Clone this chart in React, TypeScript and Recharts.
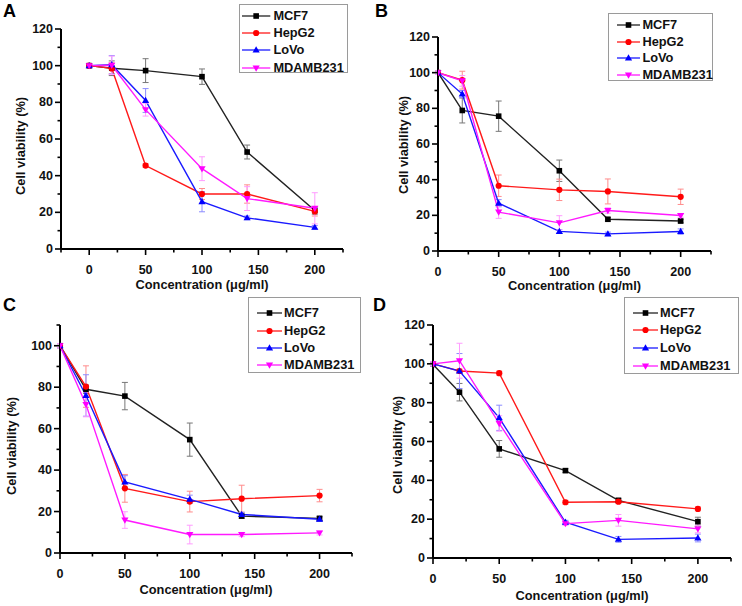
import React from "react";
import { LineChart, Line, XAxis, YAxis, ErrorBar, Legend } from "recharts";

// x values (µg/ml) and cell lines
const concentrations = [0, 20, 50, 100, 140, 200];
const cellLines = ["MCF7", "HepG2", "LoVo", "MDAMB231"];

// tick values (major + minor)
const xTicksA = [-25, 0, 25, 50, 75, 100, 125, 150, 175, 200, 225];
const xTicks = [0, 25, 50, 75, 100, 125, 150, 175, 200, 225];
const yTicks120 = [0, 10, 20, 30, 40, 50, 60, 70, 80, 90, 100, 110, 120];
const yTicks110 = [0, 10, 20, 30, 40, 50, 60, 70, 80, 90, 100, 110];

// panel A
const mcf7A = [100, 98.6, 97.3, 94, 52.9, 21];
const mcf7AErr = [1, 4, 6.5, 4.2, 3.8, 2];
const hepg2A = [100, 98.5, 45.5, 30, 30, 20.5];
const hepg2AErr = [1, 3, 1, 3, 5, 2.5];
const lovoA = [100, 100.5, 81, 25.8, 17, 11.8];
const lovoAErr = [1, 5, 6.5, 5.5, 1, 1];
const mdaA = [100, 100.2, 76, 43.8, 27.5, 22.2];
const mdaAErr = [1, 5, 3.5, 6.5, 6.5, 8.5];

// panel B
const mcf7B = [100, 78.8, 75.6, 45, 17.8, 16.8];
const mcf7BErr = [1, 7, 8.5, 6, 1, 1];
const hepg2B = [100, 95.8, 36.6, 34.3, 33.4, 30.4];
const hepg2BErr = [1, 5, 6, 6, 7, 4.3];
const lovoB = [100, 88, 26.8, 11, 9.6, 10.9];
const lovoBErr = [1, 2, 2, 1, 1, 1.5];
const mdaB = [100, 95.4, 21.8, 15.8, 22.7, 19.9];
const mdaBErr = [1, 3, 3.5, 4, 1.5, 1];

// panel C
const mcf7C = [100, 79, 75.7, 54.7, 17.8, 16.7];
const mcf7CErr = [1, 2, 6.6, 8, 1, 1];
const hepg2C = [100, 80.3, 31.2, 24.8, 26.2, 27.7];
const hepg2CErr = [1, 10, 6.7, 5, 6.5, 3];
const lovoC = [100, 76, 34.3, 25.9, 18.6, 16.3];
const lovoCErr = [1, 10, 3, 2, 1, 1];
const mdaC = [100, 71.7, 15.9, 8.9, 8.9, 9.7];
const mdaCErr = [1, 6, 4, 4.5, 1, 1];

// panel D
const mcf7D = [99.7, 85.4, 56.2, 45, 29.7, 18.7];
const mcf7DErr = [1, 4.5, 4.3, 1, 1, 2.3];
const hepg2D = [100, 96.3, 95.2, 28.7, 29, 25.3];
const hepg2DErr = [1, 1, 1, 1, 1, 1];
const lovoD = [100, 96.3, 72.2, 18.4, 9.6, 10.3];
const lovoDErr = [1, 9, 6.5, 1, 1.5, 2];
const mdaD = [100, 101.6, 69.3, 17.7, 19.4, 15];
const mdaDErr = [1, 9, 4, 1, 3, 2];

const FONT = '"Liberation Sans", Arial, sans-serif';

const seriesStyle = [
  { key: "mcf7", line: "#222", fill: "#000", err: "#777", marker: "square" },
  { key: "hepg2", line: "#ff1a1a", fill: "#ff0000", err: "#ff8c8c", marker: "circle" },
  { key: "lovo", line: "#1a1aff", fill: "#0000ff", err: "#8c8cff", marker: "up" },
  { key: "mda", line: "#ff1aff", fill: "#ff00ff", err: "#ff9cff", marker: "down" },
]

function buildRows(vals: number[][], errs: number[][]) {
  return concentrations.map((c, i) => {
    const row: Record<string, number> = { conc: c }
    seriesStyle.forEach((s, k) => {
      row[s.key] = vals[k][i]
      row[s.key + "Err"] = errs[k][i]
    })
    return row
  })
}

function Marker({ kind, cx, cy, color }: { kind: string; cx: number; cy: number; color: string }) {
  if (cx == null || cy == null) return null
  if (kind === "square") return <rect x={cx - 2.8} y={cy - 2.8} width={5.6} height={5.6} fill={color} />
  if (kind === "circle") return <circle cx={cx} cy={cy} r={3.1} fill={color} />
  if (kind === "up")
    return <polygon points={`${cx},${cy - 3.7} ${cx + 3.6},${cy + 2.5} ${cx - 3.6},${cy + 2.5}`} fill={color} />
  return <polygon points={`${cx},${cy + 3.7} ${cx + 3.6},${cy - 2.5} ${cx - 3.6},${cy - 2.5}`} fill={color} />
}

function XTick(props: any) {
  const { x, y, payload } = props
  const v = payload.value
  const major = v % 50 === 0
  return (
    <g>
      <line x1={x} x2={x} y1={y} y2={y + (major ? 6 : 3.5)} stroke="#000" strokeWidth={1.6} />
      {major && (
        <text x={x} y={y + 21} textAnchor="middle" dominantBaseline="central"
          fontFamily={FONT} fontWeight="bold" fontSize={12.5} fill="#111">
          {v}
        </text>
      )}
    </g>
  )
}

function YTick(props: any) {
  const { x, y, payload } = props
  const v = payload.value
  const major = v % 20 === 0
  return (
    <g>
      <line x1={x - (major ? 6 : 3.5)} x2={x} y1={y} y2={y} stroke="#000" strokeWidth={1.6} />
      {major && (
        <text x={x - 8} y={y} textAnchor="end" dominantBaseline="central"
          fontFamily={FONT} fontWeight="bold" fontSize={12.5} fill="#111">
          {v}
        </text>
      )}
    </g>
  )
}

type LegendLayout = { x: number; y: number; w: number; h: number; row0: number; gap: number; s0: number; s1: number; tx: number }

function LegendBox({ lg }: { lg: LegendLayout }) {
  return (
    <div style={{ position: "relative", width: lg.w, height: lg.h, boxSizing: "border-box", border: "1px solid #9a9a9a", background: "#fff" }}>
      {cellLines.map((name, i) => {
        const s = seriesStyle[i]
        const cy = lg.row0 + i * lg.gap
        return (
          <div key={name}>
            <svg style={{ position: "absolute", left: lg.s0, top: cy - 6 }} width={lg.s1 - lg.s0} height={12}>
              <line x1={0} x2={lg.s1 - lg.s0} y1={6} y2={6} stroke={s.line} strokeWidth={1.3} />
              <Marker kind={s.marker} cx={(lg.s1 - lg.s0) / 2} cy={6} color={s.fill} />
            </svg>
            <span style={{ position: "absolute", left: lg.tx, top: cy - 8, lineHeight: "16px", fontFamily: FONT, fontWeight: "bold", fontSize: 12.8, color: "#111", whiteSpace: "nowrap" }}>
              {name}
            </span>
          </div>
        )
      })}
    </div>
  )
}

type PanelProps = {
  letter: string
  left: number
  top: number
  width: number
  height: number
  margin: { top: number; right: number; bottom: number; left: number }
  yWidth: number
  xHeight: number
  xDomain: [number, number]
  xTickVals: number[]
  yDomain: [number, number]
  yTickVals: number[]
  vals: number[][]
  errs: number[][]
  legend: LegendLayout
  yTitle: { x: number; y: number }
  xTitleOffset: number
  letterPos: { x: number; y: number }
}

function Panel(p: PanelProps) {
  const rows = buildRows(p.vals, p.errs)
  return (
    <div style={{ position: "absolute", left: p.left, top: p.top, width: p.width, height: p.height }}>
      <LineChart width={p.width} height={p.height} data={rows} margin={p.margin}>
        <XAxis
          dataKey="conc"
          type="number"
          domain={p.xDomain}
          ticks={p.xTickVals}
          interval={0}
          allowDataOverflow
          height={p.xHeight}
          tickSize={0}
          tickMargin={0}
          tickLine={false}
          axisLine={{ stroke: "#000", strokeWidth: 2 }}
          tick={<XTick />}
          label={(lp: any) => {
            const vb = lp.viewBox
            return (
              <text x={vb.x + vb.width / 2} y={vb.y + p.xTitleOffset} textAnchor="middle" dominantBaseline="central"
                fontFamily={FONT} fontWeight="bold" fontSize={12.8} fill="#111">
                Concentration (μg/ml)
              </text>
            )
          }}
        />
        <YAxis
          type="number"
          domain={p.yDomain}
          ticks={p.yTickVals}
          interval={0}
          allowDataOverflow
          width={p.yWidth}
          tickSize={0}
          tickMargin={0}
          tickLine={false}
          axisLine={{ stroke: "#000", strokeWidth: 2 }}
          tick={<YTick />}
          label={() => (
            <text x={p.yTitle.x} y={p.yTitle.y} transform={`rotate(-90 ${p.yTitle.x} ${p.yTitle.y})`}
              textAnchor="middle" dominantBaseline="central"
              fontFamily={FONT} fontWeight="bold" fontSize={12.8} fill="#111">
              Cell viability (%)
            </text>
          )}
        />
        {seriesStyle.map((s) => (
          <Line
            key={s.key}
            dataKey={s.key}
            type="linear"
            stroke={s.line}
            strokeWidth={1.4}
            isAnimationActive={false}
            activeDot={false}
            dot={(dp: any) => <Marker key={`${s.key}-${dp.index}`} kind={s.marker} cx={dp.cx} cy={dp.cy} color={s.fill} />}
          >
            <ErrorBar dataKey={s.key + "Err"} width={3} strokeWidth={1} stroke={s.err} direction="y" isAnimationActive={false} />
          </Line>
        ))}
        <Legend
          layout="vertical"
          align="center"
          verticalAlign="middle"
          wrapperStyle={{ left: p.legend.x, top: p.legend.y, width: p.legend.w, height: p.legend.h }}
          content={() => <LegendBox lg={p.legend} />}
        />
      </LineChart>
      <div style={{ position: "absolute", left: p.letterPos.x, top: p.letterPos.y, fontFamily: FONT, fontWeight: "bold", fontSize: 18, lineHeight: "18px", color: "#000" }}>
        {p.letter}
      </div>
    </div>
  )
}

export default function App() {
  return (
    <div style={{ position: "absolute", left: 0, top: 0, width: 742, height: 606, background: "#fff", overflow: "hidden" }}>
      <Panel
        letter="A" left={0} top={0} width={371} height={300}
        margin={{ top: 29, right: 28, bottom: 1, left: 0 }} yWidth={61} xHeight={50}
        xDomain={[-25, 225]} xTickVals={xTicksA} yDomain={[0, 120]} yTickVals={yTicks120}
        vals={[mcf7A, hepg2A, lovoA, mdaA]} errs={[mcf7AErr, hepg2AErr, lovoAErr, mdaAErr]}
        legend={{ x: 239, y: 4, w: 109, h: 69, row0: 11, gap: 17.2, s0: 2.4, s1: 30.7, tx: 33.4 }}
        yTitle={{ x: 20, y: 146 }} xTitleOffset={35.5} letterPos={{ x: 3, y: 2 }}
      />
      <Panel
        letter="B" left={371} top={0} width={371} height={300}
        margin={{ top: 37, right: 31, bottom: 0, left: 0 }} yWidth={67} xHeight={49}
        xDomain={[0, 225]} xTickVals={xTicks} yDomain={[0, 120]} yTickVals={yTicks120}
        vals={[mcf7B, hepg2B, lovoB, mdaB]} errs={[mcf7BErr, hepg2BErr, lovoBErr, mdaBErr]}
        legend={{ x: 237, y: 13, w: 105, h: 68, row0: 11, gap: 16.7, s0: 7.7, s1: 30.7, tx: 33.4 }}
        yTitle={{ x: 32, y: 145 }} xTitleOffset={34.5} letterPos={{ x: 4, y: 2 }}
      />
      <Panel
        letter="C" left={0} top={300} width={371} height={306}
        margin={{ top: 25, right: 19, bottom: 3, left: 0 }} yWidth={60} xHeight={50}
        xDomain={[0, 225]} xTickVals={xTicks} yDomain={[0, 110]} yTickVals={yTicks110}
        vals={[mcf7C, hepg2C, lovoC, mdaC]} errs={[mcf7CErr, hepg2CErr, lovoCErr, mdaCErr]}
        legend={{ x: 248, y: -3, w: 113, h: 76, row0: 15.3, gap: 17.2, s0: 8.4, s1: 33.4, tx: 35 }}
        yTitle={{ x: 11, y: 146 }} xTitleOffset={36.5} letterPos={{ x: 3, y: -4 }}
      />
      <Panel
        letter="D" left={371} top={300} width={371} height={306}
        margin={{ top: 25, right: 11, bottom: 0, left: 0 }} yWidth={62} xHeight={48}
        xDomain={[0, 225]} xTickVals={xTicks} yDomain={[0, 120]} yTickVals={yTicks120}
        vals={[mcf7D, hepg2D, lovoD, mdaD]} errs={[mcf7DErr, hepg2DErr, lovoDErr, mdaDErr]}
        legend={{ x: 253, y: -3, w: 115, h: 77, row0: 14.7, gap: 17.7, s0: 7.7, s1: 32.7, tx: 35 }}
        yTitle={{ x: 26, y: 145 }} xTitleOffset={37} letterPos={{ x: 2, y: -4 }}
      />
    </div>
  )
}
